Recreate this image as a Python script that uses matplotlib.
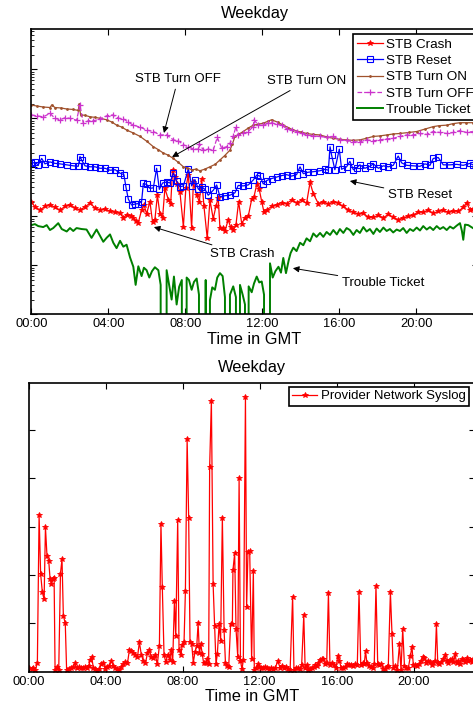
import numpy as np
import matplotlib
matplotlib.use("Agg")
import matplotlib.pyplot as plt
from matplotlib.ticker import LogLocator, NullFormatter

plt.rcParams['font.family'] = ['Liberation Sans', 'DejaVu Sans']

# ---- top panel: weekday STB events (log10 of counts, anonymised scale) ----
turn_on_h = [0.00, 0.30, 0.62, 0.97, 1.06, 1.23, 1.55, 1.84, 2.18, 2.44, 2.49, 2.56, 2.80, 3.05, 3.30,
             3.57, 3.91, 4.20, 4.43, 4.70, 4.95, 5.30, 5.65, 6.00, 6.34, 6.60, 6.86, 7.10, 7.38, 7.64,
             7.90, 8.10, 8.33, 8.55, 8.76, 9.00, 9.28, 9.55, 9.80, 10.05, 10.32, 10.45, 10.58, 10.80,
             11.01, 11.27, 11.53, 11.80, 12.05, 12.30, 12.48, 12.80, 13.09, 13.35, 13.61, 14.00, 14.30,
             14.65, 15.00, 15.35, 15.69, 16.05, 16.38, 16.70, 17.07, 17.40, 17.77, 18.10, 18.46, 18.80,
             19.15, 19.60, 20.02, 20.45, 20.88, 21.20, 21.58, 21.90, 22.27, 22.60, 22.94]
turn_on_log = [4.27, 4.25, 4.23, 4.22, 4.27, 4.22, 4.21, 4.19, 4.18, 4.16, 4.29, 4.07, 4.06, 4.03, 4.02,
               4.00, 3.97, 3.92, 3.86, 3.82, 3.76, 3.70, 3.63, 3.53, 3.42, 3.36, 3.29, 3.25, 3.18, 3.10,
               3.01, 2.99, 2.95, 2.96, 2.93, 2.96, 3.01, 3.06, 3.15, 3.24, 3.35, 3.48, 3.63, 3.68,
               3.73, 3.80, 3.86, 3.88, 3.90, 3.94, 3.97, 3.92, 3.86, 3.81, 3.76, 3.72, 3.69,
               3.67, 3.66, 3.62, 3.59, 3.57, 3.56, 3.55, 3.56, 3.59, 3.63, 3.64, 3.66, 3.68,
               3.69, 3.71, 3.73, 3.78, 3.83, 3.85, 3.86, 3.89, 3.91, 3.91, 3.91]

turn_off_h = [0.00, 0.28, 0.62, 0.97, 1.23, 1.49, 1.75, 2.01, 2.35, 2.53, 2.70, 2.96, 3.22, 3.57, 3.91,
              4.26, 4.52, 4.78, 5.04, 5.30, 5.65, 5.99, 6.34, 6.68, 7.03, 7.38, 7.64, 7.90, 8.16, 8.42,
              8.68, 8.73, 8.94, 9.19, 9.45, 9.66, 9.89, 10.15, 10.32, 10.49, 10.63, 10.75, 11.01,
              11.27, 11.53, 11.57, 11.79, 12.05, 12.31, 12.48, 12.74, 13.00, 13.26, 13.52, 13.78,
              14.04, 14.30, 14.65, 15.00, 15.34, 15.69, 16.03, 16.38, 16.73, 17.07, 17.42, 17.77,
              18.11, 18.46, 18.80, 19.15, 19.50, 19.84, 20.19, 20.54, 20.88, 21.23, 21.58, 21.92,
              22.27, 22.61, 22.94]
turn_off_log = [4.07, 4.05, 4.03, 4.10, 4.00, 3.97, 4.01, 4.00, 3.96, 4.27, 3.90, 3.95, 3.95, 3.98, 4.05,
                4.07, 4.00, 3.99, 3.92, 3.86, 3.82, 3.76, 3.73, 3.66, 3.66, 3.56, 3.54, 3.46, 3.42, 3.37,
                3.37, 3.48, 3.35, 3.37, 3.35, 3.61, 3.39, 3.42, 3.49, 3.63, 3.83, 3.65, 3.69,
                3.73, 3.83, 3.97, 3.86, 3.86, 3.90, 3.91, 3.88, 3.86, 3.79, 3.76, 3.73,
                3.69, 3.66, 3.64, 3.63, 3.61, 3.63, 3.56, 3.55, 3.52, 3.52, 3.56, 3.54,
                3.56, 3.58, 3.59, 3.63, 3.66, 3.66, 3.69, 3.67, 3.73, 3.71, 3.69, 3.71,
                3.75, 3.71, 3.73]

reset_h = [0.00, 0.19, 0.36, 0.54, 0.71, 0.97, 1.23, 1.49, 1.84, 2.18, 2.44, 2.53, 2.61, 2.79, 3.05,
           3.31, 3.57, 3.83, 4.09, 4.36, 4.61, 4.81, 4.92, 5.04, 5.21, 5.39, 5.56, 5.73, 5.82, 5.99,
           6.16, 6.34, 6.51, 6.65, 6.82, 7.03, 7.20, 7.38, 7.55, 7.72, 7.90, 8.16, 8.33, 8.50, 8.68,
           8.85, 9.02, 9.19, 9.45, 9.63, 9.80, 10.06, 10.32, 10.58, 10.75, 11.01, 11.27, 11.53, 11.71,
           11.88, 12.05, 12.23, 12.48, 12.74, 13.00, 13.26, 13.52, 13.78, 13.96, 14.13, 14.39, 14.65,
           15.00, 15.26, 15.43, 15.52, 15.60, 15.77, 16.00, 16.12, 16.38, 16.55, 16.73, 16.90, 17.07,
           17.33, 17.59, 17.77, 18.03, 18.29, 18.55, 18.80, 19.06, 19.24, 19.50, 19.84, 20.19, 20.45,
           20.71, 20.88, 21.14, 21.40, 21.75, 22.10, 22.44, 22.79, 22.94]
reset_log = [3.08, 3.10, 3.05, 3.18, 3.07, 3.11, 3.08, 3.07, 3.05, 3.03, 3.02, 3.22, 3.15, 3.03, 3.01,
             3.01, 2.98, 2.98, 2.94, 2.95, 2.88, 2.85, 2.59, 2.35, 2.23, 2.25, 2.26, 2.30, 2.67, 2.65,
             2.57, 2.58, 2.98, 2.55, 2.68, 2.70, 2.68, 2.88, 2.72, 2.60, 2.62, 2.97, 2.62, 2.75, 2.55,
             2.60, 2.55, 2.43, 2.53, 2.64, 2.40, 2.42, 2.43, 2.48, 2.63, 2.62, 2.64, 2.74, 2.84,
             2.82, 2.66, 2.73, 2.77, 2.80, 2.83, 2.85, 2.82, 2.85, 3.01, 2.87, 2.90, 2.91,
             2.93, 2.96, 2.94, 3.42, 3.25, 2.95, 3.37, 2.96, 3.01, 3.12, 2.95, 2.99, 3.05,
             2.98, 3.02, 3.07, 2.98, 3.03, 3.01, 3.04, 3.23, 3.09, 3.04, 3.03, 3.02, 3.07,
             3.04, 3.18, 3.20, 3.05, 3.05, 3.06, 3.04, 3.08, 3.05]

crash_h = [0.00, 0.19, 0.45, 0.71, 0.97, 1.23, 1.49, 1.75, 2.01, 2.27, 2.53, 2.79, 3.05, 3.31, 3.57,
           3.83, 4.09, 4.36, 4.61, 4.78, 4.95, 5.16, 5.30, 5.44, 5.56, 5.73, 5.85, 5.99, 6.16, 6.30,
           6.42, 6.55, 6.68, 6.82, 6.94, 7.12, 7.24, 7.34, 7.46, 7.59, 7.72, 7.90, 8.03, 8.16, 8.33,
           8.42, 8.59, 8.73, 8.85, 8.97, 9.14, 9.28, 9.45, 9.59, 9.71, 9.80, 9.94, 10.06, 10.23,
           10.35, 10.49, 10.63, 10.77, 10.93, 11.10, 11.27, 11.45, 11.57, 11.71, 11.84, 11.97, 12.09,
           12.23, 12.48, 12.74, 13.00, 13.26, 13.52, 13.78, 14.04, 14.30, 14.48, 14.65, 14.91, 15.17,
           15.43, 15.69, 15.95, 16.21, 16.47, 16.73, 16.99, 17.25, 17.51, 17.77, 18.03, 18.29, 18.55,
           18.80, 19.06, 19.32, 19.58, 19.84, 20.10, 20.36, 20.62, 20.88, 21.14, 21.40, 21.66, 21.92,
           22.18, 22.44, 22.61, 22.79, 22.94]
crash_log = [2.30, 2.19, 2.13, 2.20, 2.24, 2.18, 2.13, 2.20, 2.24, 2.17, 2.13, 2.19, 2.27, 2.17, 2.13,
             2.15, 2.10, 2.08, 2.06, 1.97, 2.03, 2.01, 1.97, 1.90, 1.87, 2.13, 2.24, 2.05, 2.30, 1.88,
             1.93, 2.43, 2.05, 1.97, 2.57, 2.34, 2.25, 2.95, 2.80, 2.65, 2.50, 1.79, 2.58, 2.85, 1.76,
             2.70, 2.43, 2.30, 2.77, 2.20, 1.55, 2.33, 1.95, 2.20, 2.38, 1.76, 1.76, 1.70, 1.93,
             1.78, 1.72, 1.82, 2.30, 1.85, 1.97, 2.00, 2.35, 2.40, 2.65, 2.55, 2.30, 2.08,
             2.13, 2.20, 2.24, 2.28, 2.26, 2.33, 2.28, 2.33, 2.27, 2.69, 2.46, 2.26, 2.30,
             2.25, 2.30, 2.27, 2.20, 2.13, 2.08, 2.05, 2.06, 1.98, 1.98, 2.02, 1.97, 2.04,
             1.98, 1.93, 1.97, 2.00, 2.02, 2.09, 2.08, 2.13, 2.06, 2.10, 2.12, 2.08, 2.11,
             2.10, 2.18, 2.28, 2.13, 2.15]

# None = no tickets in that interval
ticket_h = [0.00, 0.19, 0.36, 0.62, 0.80, 0.97, 1.14, 1.40, 1.58, 1.84, 2.01, 2.18, 2.35, 2.61, 2.87,
            3.13, 3.39, 3.57, 3.74, 3.91, 4.09, 4.26, 4.43, 4.61, 4.78, 4.95, 5.13, 5.30, 5.42, 5.56,
            5.73, 5.85, 5.99, 6.13, 6.27, 6.42, 6.60, 6.72, 6.82, 7.03, 7.17, 7.29, 7.41, 7.55, 7.68,
            7.82, 7.92, 8.07, 8.19, 8.33, 8.45, 8.59, 8.71, 8.80, 8.94, 9.06, 9.18, 9.28, 9.40, 9.54,
            9.66, 9.80, 9.94, 10.06, 10.15, 10.32, 10.49, 10.63, 10.75, 10.84, 10.98, 11.10, 11.19,
            11.29, 11.45, 11.57, 11.71, 11.84, 11.97, 12.09, 12.19, 12.30, 12.40, 12.54, 12.68, 12.84,
            12.97, 13.09, 13.23, 13.37, 13.47, 13.61, 13.78, 13.96, 14.13, 14.30, 14.48, 14.65, 14.82,
            15.00, 15.17, 15.34, 15.52, 15.69, 15.87, 16.03, 16.21, 16.38, 16.55, 16.73, 16.90, 17.07,
            17.25, 17.42, 17.59, 17.77, 17.94, 18.11, 18.29, 18.46, 18.63, 18.80, 18.98, 19.15, 19.32,
            19.50, 19.67, 19.84, 20.02, 20.19, 20.36, 20.54, 20.71, 20.88, 21.06, 21.23, 21.40, 21.58,
            21.75, 21.92, 22.10, 22.27, 22.37, 22.44, 22.53, 22.70, 22.94]
ticket_log = [1.82, 1.84, 1.80, 1.78, 1.82, 1.72, 1.76, 1.86, 1.74, 1.69, 1.76, 1.70, 1.76, 1.74, 1.73,
              1.56, 1.73, 1.60, 1.48, 1.56, 1.63, 1.46, 1.35, 1.50, 1.38, 1.42, 1.16, 0.97, 0.60, 0.98,
              0.78, 0.95, 0.90, 0.75, 0.88, 0.96, 0.90, 0.60, None, 0.90, 0.58, 0.30, 0.77, 0.20, 0.56,
              0.70, None, 0.75, 0.70, 0.50, 0.66, 0.73, 0.40, None, None, 0.70, None, 0.29, 0.55, 0.50,
              0.75, 0.84, 0.78, 0.35, None, 0.40, 0.57, 0.35, None, 0.60, 0.40, 0.20, None,
              0.57, 0.45, 0.63, 0.77, 0.65, 0.67, 0.40, None, None, 1.04, 0.75, 0.88, 0.97,
              0.85, 1.15, 0.84, 1.10, 1.25, 1.36, 1.29, 1.46, 1.41, 1.55, 1.49, 1.65, 1.58,
              1.66, 1.58, 1.68, 1.62, 1.72, 1.63, 1.74, 1.66, 1.76, 1.72, 1.62, 1.72, 1.66,
              1.78, 1.69, 1.74, 1.64, 1.75, 1.68, 1.77, 1.70, 1.74, 1.67, 1.73, 1.70, 1.76,
              1.66, 1.74, 1.70, 1.77, 1.71, 1.80, 1.73, 1.78, 1.72, 1.80, 1.74, 1.78, 1.72,
              1.79, 1.75, 1.81, 1.86, 1.70, 1.52, 1.83, 1.82, 1.76]

# ---- bottom panel: provider network syslog (anonymised linear scale) ----
syslog_h = [0.03, 0.16, 0.24, 0.33, 0.45, 0.54, 0.62, 0.71, 0.80, 0.87, 0.95, 1.04, 1.11, 1.18, 1.25,
            1.32, 1.37, 1.45, 1.56, 1.65, 1.73, 1.80, 1.90, 1.97, 2.08, 2.18, 2.29, 2.39, 2.49, 2.60,
            2.70, 2.81, 2.91, 3.01, 3.12, 3.19, 3.27, 3.36, 3.46, 3.57, 3.67, 3.77, 3.88, 3.98, 4.09,
            4.19, 4.29, 4.40, 4.50, 4.61, 4.71, 4.81, 4.92, 5.02, 5.13, 5.23, 5.33, 5.44, 5.54, 5.65,
            5.75, 5.85, 5.96, 6.06, 6.17, 6.27, 6.37, 6.48, 6.58, 6.68, 6.79, 6.87, 6.94, 7.03, 7.12,
            7.22, 7.32, 7.41, 7.48, 7.57, 7.64, 7.74, 7.81, 7.90, 7.98, 8.07, 8.14, 8.23, 8.31, 8.38,
            8.47, 8.55, 8.64, 8.73, 8.80, 8.87, 8.94, 9.02, 9.09, 9.19, 9.28, 9.35, 9.40, 9.49, 9.58,
            9.66, 9.73, 9.80, 9.89, 9.97, 10.06, 10.15, 10.22, 10.32, 10.39, 10.49, 10.58, 10.61,
            10.70, 10.77, 10.86, 10.93, 11.00, 11.08, 11.15, 11.26, 11.32, 11.39, 11.48, 11.58,
            11.67, 11.72, 11.81, 11.90, 11.98, 12.09, 12.19, 12.29, 12.40, 12.50, 12.61, 12.71,
            12.81, 12.94, 13.06, 13.16, 13.26, 13.37, 13.47, 13.58, 13.71, 13.78, 13.89, 14.01,
            14.10, 14.18, 14.29, 14.36, 14.44, 14.53, 14.61, 14.72, 14.81, 14.88, 14.96, 15.05,
            15.13, 15.22, 15.30, 15.39, 15.48, 15.57, 15.65, 15.76, 15.86, 15.97, 16.05, 16.14,
            16.24, 16.35, 16.45, 16.55, 16.66, 16.76, 16.87, 16.97, 17.07, 17.16, 17.25, 17.35,
            17.43, 17.50, 17.57, 17.66, 17.76, 17.87, 17.95, 18.04, 18.13, 18.21, 18.32, 18.42,
            18.51, 18.60, 18.68, 18.79, 18.87, 18.94, 19.05, 19.15, 19.26, 19.34, 19.43, 19.52,
            19.62, 19.72, 19.83, 19.91, 19.98, 20.09, 20.19, 20.29, 20.38, 20.47, 20.55, 20.64,
            20.74, 20.85, 20.95, 21.02, 21.11, 21.18, 21.25, 21.33, 21.44, 21.54, 21.63, 21.71,
            21.80, 21.89, 21.97, 22.06, 22.15, 22.23, 22.32, 22.41, 22.49, 22.58, 22.67, 22.75,
            22.84, 22.93, 23.01, 23.10]
syslog = [0.07, 0.05, 0.08, 0.03, 0.17, 3.24, 2.02, 1.64, 1.50, 2.99, 2.40, 2.30, 1.92, 1.81, 1.92,
          1.93, 0.03, 0.09, 0.03, 2.03, 2.33, 1.16, 1.00, 0.03, 0.05, 0.07, 0.10, 0.17, 0.07, 0.10,
          0.07, 0.08, 0.10, 0.08, 0.12, 0.25, 0.30, 0.08, 0.05, 0.02, 0.06, 0.15, 0.18, 0.05, 0.10,
          0.12, 0.22, 0.12, 0.08, 0.05, 0.03, 0.10, 0.15, 0.20, 0.17, 0.45, 0.42, 0.38, 0.35, 0.30,
          0.61, 0.35, 0.22, 0.17, 0.38, 0.45, 0.30, 0.28, 0.35, 0.15, 0.54, 3.06, 1.76, 0.35, 0.20,
          0.35, 0.25, 0.45, 0.20, 1.46, 0.74, 3.14, 0.45, 0.35, 0.55, 0.62, 1.66, 4.81, 3.19, 0.62,
          0.57, 0.19, 0.41, 0.53, 1.00, 0.38, 0.57, 0.36, 0.17, 0.17, 0.26, 0.16, 4.24, 5.61, 1.81,
          0.95, 0.16, 0.37, 0.98, 0.64, 3.19, 0.86, 0.19, 0.12, 0.10, 0.99, 0.99, 2.10,
          2.45, 0.88, 0.31, 4.00, 0.23, 0.05, 0.24, 5.68, 1.33, 2.48, 2.50, 0.26,
          2.08, 0.03, 0.08, 0.15, 0.10, 0.07, 0.08, 0.10, 0.07, 0.06, 0.08, 0.05,
          0.08, 0.22, 0.08, 0.12, 0.07, 0.10, 0.05, 0.03, 1.55, 0.03, 0.08, 0.07,
          0.06, 0.14, 1.17, 0.07, 0.14, 0.03, 0.05, 0.08, 0.10, 0.14, 0.12, 0.18,
          0.24, 0.26, 0.26, 0.15, 0.17, 1.62, 0.14, 0.19, 0.13, 0.08, 0.32, 0.22,
          0.07, 0.07, 0.10, 0.15, 0.14, 0.14, 0.12, 0.15, 0.14, 1.64, 0.14, 0.18,
          0.15, 0.43, 0.17, 0.12, 0.10, 0.07, 0.15, 1.77, 0.16, 0.14, 0.16, 0.05,
          0.05, 0.10, 0.12, 1.64, 0.79, 0.08, 0.12, 0.03, 0.57, 0.03, 0.88, 0.12,
          0.08, 0.07, 0.33, 0.52, 0.14, 0.14, 0.12, 0.16, 0.22, 0.30, 0.28, 0.18,
          0.22, 0.20, 0.13, 0.18, 0.22, 0.98, 0.18, 0.16, 0.20, 0.26, 0.34, 0.22,
          0.18, 0.24, 0.26, 0.20, 0.36, 0.18, 0.22, 0.16, 0.26, 0.24, 0.20, 0.28,
          0.22, 0.24, 0.20, 0.26]

hour_ticks = [0, 4, 8, 12, 16, 20]
hour_labels = ['00:00', '04:00', '08:00', '12:00', '16:00', '20:00']


def to_counts(logs):
    return np.array([0.0 if v is None else 10 ** v for v in logs])


fig = plt.figure(figsize=(4.73, 7.05), dpi=100)

# axes run past the right edge of the image, as in the original crop
ax1 = fig.add_axes([31.3 / 473, 1 - 314.3 / 705, 446.6 / 473, 285 / 705])
ax2 = fig.add_axes([28.7 / 473, 1 - 671.7 / 705, 446.6 / 473, 289 / 705])

ax1.plot(crash_h, to_counts(crash_log), color='red', lw=0.9, marker='*', ms=4,
         mew=0.6, label='STB Crash')
ax1.plot(reset_h, to_counts(reset_log), color='blue', lw=0.9, marker='s', ms=3.8,
         mfc='none', mew=0.8, label='STB Reset')
ax1.plot(turn_on_h, to_counts(turn_on_log), color='#a0522d', lw=0.9, marker='.', ms=2,
         label='STB Turn ON')
ax1.plot(turn_off_h, to_counts(turn_off_log), color='#cc33cc', lw=0.9, ls='--', marker='+',
         ms=5, mew=0.9, label='STB Turn OFF')
ax1.plot(ticket_h, to_counts(ticket_log), color='green', lw=1.4, label='Trouble Ticket')

ax1.set_yscale('log', nonpositive='clip')
ax1.set_ylim(1, 10 ** 5.816)
ax1.set_xlim(0, 23.2)
ax1.yaxis.set_major_locator(LogLocator(base=10, numticks=10))
ax1.yaxis.set_minor_locator(LogLocator(base=10, subs=np.arange(2, 10), numticks=10))
ax1.yaxis.set_major_formatter(NullFormatter())
ax1.yaxis.set_minor_formatter(NullFormatter())
ax1.set_title('Weekday', fontsize=11.8, pad=8)

ann = dict(arrowstyle='-|>', color='black', lw=0.7, mutation_scale=9, shrinkA=1, shrinkB=0)
ax1.annotate('STB Turn OFF', xy=(6.89, 10 ** 3.70), xytext=(7.62, 10 ** 4.80),
             ha='center', va='center', fontsize=9.5, arrowprops=ann)
ax1.annotate('STB Turn ON', xy=(7.31, 10 ** 3.21), xytext=(14.32, 10 ** 4.76),
             ha='center', va='center', fontsize=9.5, arrowprops=ann)
ax1.annotate('STB Reset', xy=(16.55, 10 ** 2.72), xytext=(20.19, 10 ** 2.43),
             ha='center', va='center', fontsize=9.5, arrowprops=ann)
ax1.annotate('STB Crash', xy=(6.37, 10 ** 1.78), xytext=(10.94, 10 ** 1.23),
             ha='center', va='center', fontsize=9.5, arrowprops=ann)
ax1.annotate('Trouble Ticket', xy=(13.59, 10 ** 0.94), xytext=(18.27, 10 ** 0.64),
             ha='center', va='center', fontsize=9.5, arrowprops=ann)

leg1 = ax1.legend(loc='upper left', bbox_to_anchor=(0.721, 0.982), borderaxespad=0,
                  fontsize=9.7, fancybox=False, edgecolor='black', framealpha=1,
                  handlelength=1.9, handletextpad=0.25, labelspacing=0.28, borderpad=0.3)
leg1.get_frame().set_linewidth(1.2)

ax2.plot(syslog_h, syslog, color='red', lw=0.9, marker='*', ms=4, mew=0.6,
         label='Provider Network Syslog')
ax2.set_xlim(0, 23.2)
ax2.set_ylim(0, 5.98)
ax2.set_yticks([1, 2, 3, 4, 5])
ax2.set_yticklabels([])
ax2.set_title('Weekday', fontsize=11.8, pad=8)
leg2 = ax2.legend(loc='upper left', bbox_to_anchor=(0.583, 0.986), borderaxespad=0,
                  fontsize=9.5, fancybox=False, edgecolor='black', framealpha=1,
                  handlelength=1.9, handletextpad=0.25, borderpad=0.25)
leg2.get_frame().set_linewidth(1.2)

for ax in (ax1, ax2):
    ax.set_xticks(hour_ticks)
    ax.set_xticklabels(hour_labels, fontsize=9.3)
    ax.set_xlabel('Time in GMT', fontsize=11.8, labelpad=1)
    ax.tick_params(axis='both', which='major', direction='in', length=4, width=0.8,
                   top=True, right=True, pad=3)
    ax.tick_params(axis='both', which='minor', direction='in', length=2, width=0.6,
                   top=False, right=True)
    for s in ax.spines.values():
        s.set_linewidth(1.2)

fig.savefig('out.png', dpi=100)
